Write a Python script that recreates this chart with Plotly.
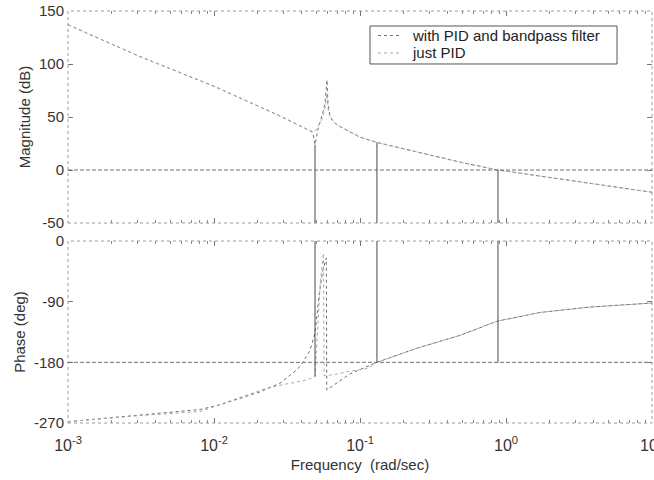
import plotly.graph_objects as go

# ---------------- data ----------------
mag_freq_filter = [0.001, 0.00311, 0.01, 0.0283, 0.0455, 0.0476, 0.0492, 0.0515, 0.055,
                   0.0575, 0.0594, 0.0604, 0.0625, 0.0675, 0.073, 0.0855, 0.1, 0.1306,
                   0.2455, 0.353, 0.5, 0.881, 2.0, 4.0, 10.0]
mag_filter = [137, 107, 79, 51, 37, 35, 24, 38, 52, 62, 85, 62, 50, 44, 41, 36, 31, 26,
              17, 12, 7, 0, -7, -13, -21]

mag_freq_pid = [0.001, 0.00311, 0.01, 0.0283, 0.0455, 0.0492, 0.055, 0.0575, 0.0594,
                0.0604, 0.0625, 0.0675, 0.073, 0.0855, 0.1, 0.1306, 0.2455, 0.353, 0.5,
                0.881, 2.0, 4.0, 10.0]
mag_pid = [137, 107, 79, 51, 37, 36, 48, 58, 72, 58, 49, 44, 41, 36, 31, 26, 17, 12, 7,
           0, -7, -13, -21]

ph_freq_filter = [0.001, 0.00311, 0.00802, 0.011, 0.0151, 0.0206, 0.0283, 0.037, 0.0407,
                  0.0455, 0.0492, 0.0525, 0.0555, 0.0588, 0.0592, 0.0675, 0.0855, 0.1306,
                  0.2455, 0.484, 0.867, 1.71, 3.76, 10.0]
ph_filter = [-268, -258, -250, -243, -233, -224, -211, -191, -180, -162, -136, -80, -45,
             -25, -221, -212, -197, -180, -159, -140, -119, -106, -98, -92]

ph_freq_pid = [0.001, 0.00311, 0.00802, 0.0135, 0.0231, 0.0332, 0.0434, 0.0492, 0.0505,
               0.0535, 0.0562, 0.0568, 0.0675, 0.0855, 0.113, 0.1306, 0.2455, 0.484,
               0.867, 1.71, 3.76, 10.0]
ph_pid = [-268, -259, -253, -236, -218, -211, -206, -201, -150, -60, -18, -200, -198,
          -193, -189, -180, -159, -140, -119, -106, -98, -92]

margin_freqs = [0.0492, 0.1306, 0.881]
margin_mag_top = [24, 26, 0]
margin_phase_bottom = [-201, -180, -180]

mag_ticks = [150, 100, 50, 0, -50]
mag_tick_labels = ["150", "100", "50", "0", "-50"]
phase_ticks = [0, -90, -180, -270]
phase_tick_labels = ["0", "-90", "-180", "-270"]
decade_ticks = [0.001, 0.01, 0.1, 1, 10]
decade_labels = ["10<sup>-3</sup>", "10<sup>-2</sup>", "10<sup>-1</sup>",
                 "10<sup>0</sup>", "10<sup>1</sup>"]
series_names = ["with PID and bandpass filter", "just PID"]

# ---------------- figure ----------------
FONT = "Liberation Sans, Arial, sans-serif"
minor_vals = [m * 10 ** e for e in range(-3, 1) for m in range(2, 10)]
COL_FILTER = "#6e6e6e"
COL_PID = "#a8a8a8"

fig = go.Figure()

fig.add_trace(go.Scatter(x=mag_freq_filter, y=mag_filter, mode="lines",
                         name=series_names[0], xaxis="x", yaxis="y", showlegend=False,
                         line=dict(color=COL_FILTER, width=1, dash="dot")))
fig.add_trace(go.Scatter(x=mag_freq_pid, y=mag_pid, mode="lines",
                         name=series_names[1], xaxis="x", yaxis="y", showlegend=False,
                         line=dict(color=COL_PID, width=1, dash="dot")))
fig.add_trace(go.Scatter(x=ph_freq_filter, y=ph_filter, mode="lines", showlegend=False,
                         name=series_names[0], xaxis="x2", yaxis="y2",
                         line=dict(color=COL_FILTER, width=1, dash="dot")))
fig.add_trace(go.Scatter(x=ph_freq_pid, y=ph_pid, mode="lines", showlegend=False,
                         name=series_names[1], xaxis="x2", yaxis="y2",
                         line=dict(color=COL_PID, width=1, dash="dot")))

for f, m, p in zip(margin_freqs, margin_mag_top, margin_phase_bottom):
    fig.add_trace(go.Scatter(x=[f, f], y=[m, mag_ticks[-1]], mode="lines",
                             showlegend=False, xaxis="x", yaxis="y",
                             line=dict(color="#4a4a4a", width=1)))
    fig.add_trace(go.Scatter(x=[f, f], y=[phase_ticks[0], p], mode="lines",
                             showlegend=False, xaxis="x2", yaxis="y2",
                             line=dict(color="#4a4a4a", width=1)))

shapes = []
shapes.append(dict(type="line", xref="x domain", yref="y", x0=0, x1=1, y0=0, y1=0,
                   line=dict(color="#707070", width=1, dash="4px,2px")))
shapes.append(dict(type="line", xref="x2 domain", yref="y2", x0=0, x1=1, y0=-180, y1=-180,
                   line=dict(color="#707070", width=1, dash="4px,2px")))
for xr, yr in (("x domain", "y domain"), ("x2 domain", "y2 domain")):
    shapes.append(dict(type="rect", xref=xr, yref=yr, x0=0, x1=1, y0=0, y1=1,
                       line=dict(color="#9a9a9a", width=1, dash="dot"), layer="below"))

# manual MATLAB-style legend box (paper coordinates)
LX0, LX1, LY0, LY1 = 0.5171, 0.9401, 0.8714, 0.9636
shapes.append(dict(type="rect", xref="paper", yref="paper", x0=LX0, x1=LX1, y0=LY0, y1=LY1,
                   fillcolor="white", line=dict(color="#555555", width=1)))
legend_rows = [0.9405, 0.8981]
legend_cols = [COL_FILTER, COL_PID]
annotations = []
for name, yrow, col in zip(series_names, legend_rows, legend_cols):
    shapes.append(dict(type="line", xref="paper", yref="paper", x0=0.5308, x1=0.5719,
                       y0=yrow, y1=yrow, line=dict(color=col, width=1, dash="dot")))
    annotations.append(dict(xref="paper", yref="paper", x=0.5856, y=yrow, text=name,
                            showarrow=False, xanchor="left", yanchor="middle",
                            font=dict(family=FONT, size=15, color="#222222")))

common_x = dict(type="log", range=[-3, 1], tickvals=decade_ticks, ticks="inside",
                ticklen=5, tickcolor="#777", mirror="ticks", showline=False,
                showgrid=False, zeroline=False, ticklabeloverflow="allow",
                automargin=False,
                minor=dict(tickvals=minor_vals, ticks="inside", ticklen=3,
                           tickcolor="#888", showgrid=False))
common_y = dict(ticks="inside", ticklen=5, tickcolor="#777", mirror="ticks",
                showline=False, showgrid=False, zeroline=False, ticklabelstandoff=3,
                tickfont=dict(size=15), automargin=False)

fig.update_layout(
    width=654, height=480,
    margin=dict(l=68, r=2, t=11, b=57),
    paper_bgcolor="white", plot_bgcolor="white",
    font=dict(family=FONT, size=15, color="#333333"),
    showlegend=False,
    xaxis=dict(domain=[0, 1], anchor="y", showticklabels=False, **common_x),
    xaxis2=dict(domain=[0, 1], anchor="y2", showticklabels=True, ticktext=decade_labels,
                ticklabelstandoff=11,
                title=dict(text="Frequency\u00a0\u00a0(rad/sec)", standoff=6,
                           font=dict(size=15)),
                tickfont=dict(size=16), **common_x),
    yaxis=dict(domain=[0.4854, 1], anchor="x", range=[-50, 150], tickvals=mag_ticks,
               ticktext=mag_tick_labels,
               title=dict(text="Magnitude (dB)", standoff=4, font=dict(size=15)),
               **common_y),
    yaxis2=dict(domain=[0, 0.4417], anchor="x2", range=[-270, 0], tickvals=phase_ticks,
                ticktext=phase_tick_labels,
                title=dict(text="Phase (deg)", standoff=4, font=dict(size=15)),
                **common_y),
    shapes=shapes,
    annotations=annotations,
)

fig.write_html("out.html")
